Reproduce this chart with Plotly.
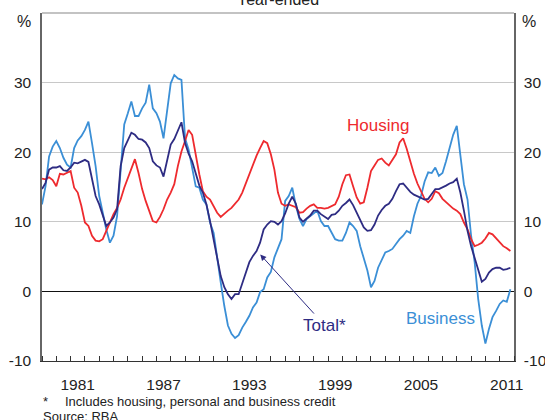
import pandas as pd
import plotly.graph_objects as go

# Quarterly observations, Q1 1979 to Q4 2011
dates = pd.date_range("1979-01-01", "2011-10-01", freq="QS")

housing = [
    16.2, 16.1, 16.4, 16.0,  15.1, 16.9, 16.8, 17.0,  17.3, 14.9, 14.2, 12.3,
    9.9, 9.4, 8.0, 7.3,  7.2, 7.5, 8.7, 9.9,  11.1, 12.0, 13.2, 14.9,
    16.2, 17.5, 19.0, 17.0,  14.7, 13.0, 11.6, 10.1,  9.9, 10.7, 11.8, 13.2,
    14.2, 15.4, 18.0, 20.1,  21.6, 23.2, 22.5, 19.4,  16.8, 14.4, 13.6, 13.2,
    12.3, 11.3, 10.7, 11.2,  11.6, 12.0, 12.6, 13.2,  14.2, 15.5, 17.0, 18.2,
    19.5, 20.6, 21.6, 21.3,  19.7, 17.5, 14.2, 12.6,  12.3, 12.5, 12.3, 12.1,
    11.3, 11.4, 11.9, 12.3,  12.5, 12.0, 12.0, 11.9,  12.0, 12.3, 12.5, 13.6,
    15.4, 16.7, 16.8, 15.1,  13.5, 12.6, 12.8, 14.9,  17.3, 18.1, 18.9, 19.1,
    18.5, 18.1, 19.0, 19.7,  21.4, 22.0, 20.5, 18.5,  16.9, 15.5, 14.3, 13.3,
    12.8, 13.3, 14.4, 14.1,  13.3, 12.8, 12.3, 11.9,  11.6, 11.1, 9.9, 8.9,
    7.5, 6.5, 6.7, 7.0,  7.6, 8.4, 8.2, 7.6,  7.1, 6.5, 6.2, 5.8,
]

total = [
    14.7, 15.6, 17.5, 17.8,  17.8, 18.0, 17.4, 17.3,  17.8, 18.5, 18.4, 18.7,
    18.9, 18.6, 16.1, 13.7,  12.5, 11.1, 9.4, 9.9,  10.6, 11.8, 18.0, 20.6,
    21.8, 22.8, 22.5, 21.9,  21.8, 21.4, 20.6, 18.7,  18.1, 17.8, 16.5, 18.9,
    21.1, 21.9, 23.2, 24.3,  21.3, 19.8, 18.7, 16.8,  15.2, 14.2, 12.5, 10.1,
    7.5, 4.6, 2.2, 0.6,  -0.4, -1.1, -0.4, -0.4,  1.1, 2.5, 4.2, 5.1,
    5.8, 7.0, 8.9, 9.6,  10.1, 10.0, 9.6, 10.1,  11.2, 12.6, 13.6, 12.6,
    10.6, 10.0, 10.5, 10.9,  11.6, 11.6, 11.1, 10.7,  10.4, 11.0, 11.1, 11.6,
    12.3, 12.7, 13.2, 12.4,  11.3, 10.4, 9.2, 8.7,  8.8, 9.6, 10.9, 11.7,
    12.3, 12.6, 13.3, 14.4,  15.4, 15.5, 14.9, 14.3,  13.9, 13.7, 13.5, 13.2,
    13.3, 14.0, 14.7, 14.7,  14.9, 15.2, 15.5, 15.7,  16.2, 14.2, 11.6, 8.7,
    6.5, 4.9, 3.0, 1.4,  1.8, 2.7, 3.2, 3.4,  3.4, 3.1, 3.2, 3.4,
]

business = [
    12.5, 15.1, 19.4, 20.8,  21.6, 20.6, 19.2, 18.2,  17.8, 20.6, 21.7, 22.3,
    23.2, 24.4, 21.3, 18.0,  13.7, 11.1, 8.9, 7.0,  8.0, 10.8, 17.5, 24.0,
    25.6, 27.3, 25.2, 25.2,  26.3, 27.1, 29.7, 26.3,  25.6, 24.4, 22.0, 26.1,
    29.9, 31.1, 30.6, 30.4,  22.0, 20.4, 18.0, 15.1,  14.9, 13.2, 12.5, 9.9,
    8.4, 4.6, 1.3, -2.1,  -4.9, -6.1, -6.7, -6.3,  -5.2, -4.4, -3.5, -2.3,
    -1.6, -0.1, 0.3, 2.0,  2.8, 4.9, 6.1, 7.5,  13.0, 13.7, 14.9, 12.3,
    10.4, 9.4, 10.4, 10.8,  11.3, 11.6, 10.1, 9.4,  9.4, 8.4, 7.5, 7.3,
    7.3, 8.4, 9.9, 9.4,  8.7, 6.5, 4.6, 3.0,  0.6, 1.5, 3.4, 4.6,
    5.6, 5.8, 6.1, 6.8,  7.5, 8.0, 8.7, 8.4,  10.8, 12.6, 13.7, 15.8,
    17.1, 17.0, 17.8, 16.6,  17.0, 18.7, 20.8, 22.5,  23.8, 19.9, 15.4, 13.2,
    8.0, 4.2, -1.1, -4.9,  -7.5, -5.4, -3.7, -2.8,  -1.8, -1.3, -1.5, 0.3,
]

year_labels = ["1981", "1987", "1993", "1999", "2005", "2011"]
label_pos = [f"{y}-07-01" for y in year_labels]
y_ticks = [-10, 0, 10, 20, 30]
y_tick_text = ["-10", "0", "10", "20", "30"]

RED = "#ee2a2e"
NAVY = "#2e2c83"
BLUE = "#3b8fd6"
FONT = "Liberation Sans, Arial, sans-serif"

fig = go.Figure()
fig.add_trace(go.Scatter(x=dates, y=business, mode="lines", line=dict(color=BLUE, width=1.8), name="Business"))
fig.add_trace(go.Scatter(x=dates, y=housing, mode="lines", line=dict(color=RED, width=1.8), name="Housing"))
fig.add_trace(go.Scatter(x=dates, y=total, mode="lines", line=dict(color=NAVY, width=1.8), name="Total*"))
# invisible trace on the right axis so it gets drawn
fig.add_trace(go.Scatter(x=[dates[0]], y=[None], yaxis="y2", showlegend=False, hoverinfo="skip"))

fig.update_layout(
    width=545, height=420,
    margin=dict(l=42, r=31, t=13, b=59, autoexpand=False),
    paper_bgcolor="white", plot_bgcolor="white",
    showlegend=False,
    font=dict(family=FONT, size=15.5, color="#222"),
    xaxis=dict(
        type="date", automargin=False,
        range=["1979-01-01", "2012-01-01"],
        tickvals=label_pos, ticktext=year_labels,
        ticks="", showgrid=False, zeroline=False,
        showline=True, linecolor="#333", linewidth=1.2,
        ticklabelstandoff=9,
        minor=dict(ticks="inside", ticklen=5, tickcolor="#333", tickwidth=1,
                   dtick="M12", tick0="1979-01-01", showgrid=False),
    ),
    yaxis=dict(
        automargin=False,
        range=[-10, 40], tickvals=y_ticks, ticktext=y_tick_text,
        showgrid=True, gridcolor="#c8c8c8", gridwidth=1,
        zeroline=True, zerolinecolor="#111", zerolinewidth=1.2,
        showline=True, linecolor="#666", linewidth=1.5,
        ticks="", ticklabelstandoff=6,
    ),
    yaxis2=dict(
        automargin=False,
        range=[-10, 40], tickvals=y_ticks, ticktext=y_tick_text,
        overlaying="y", side="right",
        showgrid=False, zeroline=False,
        showline=True, linecolor="#666", linewidth=1.5,
        ticks="", ticklabelstandoff=5,
    ),
)

# top frame line
fig.add_shape(type="line", xref="paper", yref="paper", x0=0, x1=1, y0=1, y1=1,
              line=dict(color="#888", width=1.2))

annotations = [
    dict(text="Year-ended", xref="paper", yref="paper", x=0.5, y=1.040,
         xanchor="center", yanchor="middle", showarrow=False, font=dict(size=16)),
    dict(text="%", xref="paper", yref="paper", x=-0.02, y=0.975,
         xanchor="right", yanchor="middle", showarrow=False, font=dict(size=16)),
    dict(text="%", xref="paper", yref="paper", x=1.012, y=0.975,
         xanchor="left", yanchor="middle", showarrow=False, font=dict(size=16)),
    dict(text="Housing", x="2002-07-01", y=23.9, xanchor="center", yanchor="middle",
         showarrow=False, font=dict(size=17, color=RED)),
    dict(text="Total*", x="1998-10-01", y=-4.9, xanchor="center", yanchor="middle",
         showarrow=False, font=dict(size=17, color=NAVY)),
    dict(text="Business", x="2006-11-01", y=-3.9, xanchor="center", yanchor="middle",
         showarrow=False, font=dict(size=17, color=BLUE)),
    dict(text="", x="1994-04-05", y=5.3, ax="1998-02-10", ay=-3.4, axref="x", ayref="y",
         showarrow=True, arrowhead=2, arrowsize=1.2, arrowwidth=1, arrowcolor=NAVY),
    dict(text="*", xref="paper", yref="paper", x=-0.003, y=-0.117,
         xanchor="left", yanchor="middle", showarrow=False, font=dict(size=13)),
    dict(text="Includes housing, personal and business credit", xref="paper", yref="paper",
         x=0.045, y=-0.117, xanchor="left", yanchor="middle", showarrow=False, font=dict(size=13)),
    dict(text="Source: RBA", xref="paper", yref="paper", x=-0.003, y=-0.160,
         xanchor="left", yanchor="middle", showarrow=False, font=dict(size=13)),
]
fig.update_layout(annotations=annotations)

fig.write_html(
    "out.html",
    config={"displayModeBar": False},
    post_script="document.body.style.margin='0';document.body.style.padding='0';",
)
